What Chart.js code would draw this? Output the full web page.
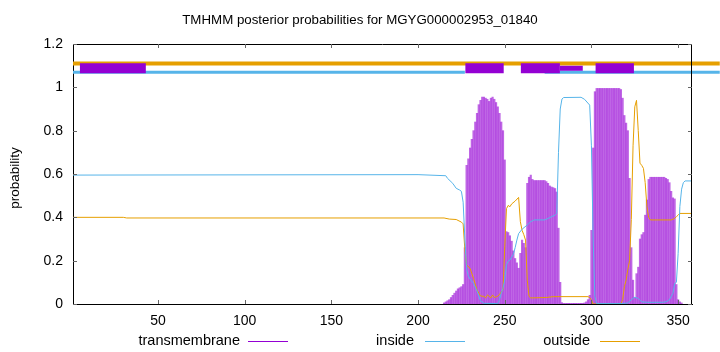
<!DOCTYPE html>
<html><head><meta charset="utf-8">
<script src="https://cdn.jsdelivr.net/npm/chart.js@4.4.1/dist/chart.umd.min.js"></script>
<style>html,body{margin:0;padding:0;background:#fff;}#wrap{width:720px;height:352px;position:relative;}</style>
</head><body><div id="wrap"><canvas id="c" width="720" height="352"></canvas></div>
<script>
// ---------- data ----------
const titleText = 'TMHMM posterior probabilities for MGYG000002953_01840';
const yAxisLabel = 'probability';
const seriesNames = ['transmembrane', 'inside', 'outside'];
const xTickValues = [50, 100, 150, 200, 250, 300, 350];
const yTickValues = [0, 0.2, 0.4, 0.6, 0.8, 1, 1.2];
const seqStart = 1, seqEnd = 358;

// transmembrane posterior, residues 215..352 (zero elsewhere)
const tmStart = 215;
const tmValues = [
  0.005,0.01,0.015,0.02,0.03,0.04,0.05,0.06,0.07,0.075,0.08,0.09,
  0.26,0.64,0.67,0.72,0.76,0.80,0.84,0.88,0.92,0.94,0.955,0.955,0.95,0.945,0.935,0.95,0.955,0.945,0.93,0.91,0.88,0.84,0.80,0.665,
  0.334,0.33,0.315,0.29,0.245,0.21,0.19,0.165,0.234,0.295,0.28,0.26,
  0.557,0.585,0.595,0.575,0.57,0.57,0.57,0.57,0.57,0.57,0.57,0.565,0.557,0.545,0.54,0.537,0.533,0.517,0.35,0.10,0.006,
  0.003,0.003,0.003,0.003,0.003,0.003,0.003,0.003,0.003,0.003,0.003,0.003,
  0.005,0.01,0.02,0.04,0.34,0.72,0.98,
  0.995,0.995,0.995,0.995,0.995,0.995,0.995,0.995,0.995,0.995,0.995,0.995,0.995,0.995,
  0.99,0.95,0.87,0.835,0.80,0.58,0.26,0.11,0.03,0.14,0.17,0.30,0.32,0.33,0.41,0.48,0.575,
  0.585,0.585,0.585,0.585,0.585,0.585,0.585,0.585,0.585,
  0.58,0.575,0.56,0.52,0.49,0.485,0.09,0.02,0.01,0.005
];

// inside posterior [residue, value]
const insideValues = [
  [1,0.595],[200,0.597],[216,0.592],[217,0.58],[220,0.557],[222,0.534],[224,0.526],[225,0.52],[226,0.47],
  [227,0.30],[228,0.16],[229,0.13],[230,0.115],[232,0.095],[234,0.06],[236,0.015],[238,0.003],[246,0.002],
  [247,0.02],[248,0.049],[249,0.072],[250,0.11],[251,0.18],[252,0.198],[253,0.203],[255,0.23],[256,0.26],
  [257,0.295],[258,0.325],[260,0.345],[263,0.365],[265,0.38],[267,0.388],[273,0.388],[275,0.395],[277,0.403],
  [279,0.41],[280,0.418],[281,0.70],[282,0.90],[283,0.946],[284,0.953],[294,0.954],[296,0.945],[299,0.918],
  [300,0.73],[301,0.30],[302,0.034],[303,0.002],[318,0.002],[321,0.005],[324,0.026],[325,0.031],[327,0.026],
  [329,0.01],[332,0.008],[341,0.008],[343,0.01],[345,0.02],[347,0.049],[348,0.095],[349,0.10],[350,0.234],
  [351,0.45],[352,0.53],[353,0.56],[354,0.568],[358,0.568]
];

// outside posterior [residue, value]
const outsideValues = [
  [1,0.40],[30,0.40],[32,0.397],[215,0.397],[218,0.392],[222,0.39],[225,0.378],[226,0.37],[227,0.25],
  [228,0.18],[230,0.165],[232,0.118],[234,0.065],[236,0.037],[238,0.035],[239,0.028],[240,0.042],[242,0.028],
  [243,0.042],[244,0.03],[246,0.036],[247,0.045],[249,0.065],[250,0.264],[251,0.44],[252,0.455],[253,0.449],
  [254,0.462],[256,0.475],[258,0.492],[259,0.38],[260,0.34],[261,0.32],[262,0.295],[263,0.11],[264,0.035],
  [265,0.028],[274,0.03],[278,0.034],[298,0.034],[299,0.03],[300,0.02],[301,0.0],[317,0.0],[318,0.02],
  [319,0.08],[320,0.11],[321,0.16],[322,0.20],[323,0.39],[324,0.73],[325,0.91],[326,0.94],[327,0.80],
  [328,0.65],[329,0.64],[330,0.626],[331,0.56],[332,0.45],[333,0.40],[334,0.388],[346,0.388],[348,0.395],
  [349,0.403],[350,0.41],[351,0.418],[358,0.418]
];

// predicted topology bars along the top
const tmSegments = [[5,43],[227.3,249.4],[259.3,281.8],[302.4,324.5]];
const tmSegmentsMinor = [[281.8,295]];
const outsideSegments = [[1,374]];
const insideSegments = [[1,227],[273,374]];
const topLevels = { outside: 1.11, inside: 1.07, tm: 1.088 };

// ---------- styles ----------
const C_TM = 'rgb(148,0,211)', C_IN = 'rgb(86,180,233)', C_OUT = 'rgb(230,159,0)';
const FONT = '"Liberation Sans", Arial, sans-serif';

function segData(segs, y) {
  const out = [];
  segs.forEach(([a, b], i) => {
    if (i > 0) out.push({ x: (segs[i-1][1] + a) / 2, y: null });
    out.push({ x: a, y: y }, { x: b, y: y });
  });
  return out;
}

const decor = {
  id: 'decor',
  afterDatasetsDraw(chart) {
    const ctx = chart.ctx, a = chart.chartArea, xs = chart.scales.x, ys = chart.scales.y;
    ctx.save();
    ctx.strokeStyle = '#000'; ctx.lineWidth = 1;
    ctx.beginPath();
    ctx.moveTo(a.left, a.top + 0.5); ctx.lineTo(a.right, a.top + 0.5);
    ctx.moveTo(a.right - 0.5, a.top); ctx.lineTo(a.right - 0.5, a.bottom);
    ctx.stroke();
    ctx.strokeStyle = '#666';
    ctx.beginPath();
    xTickValues.forEach(v => {
      const px = Math.round(xs.getPixelForValue(v)) + 0.5;
      ctx.moveTo(px, a.bottom); ctx.lineTo(px, a.bottom - 4);
      ctx.moveTo(px, a.top); ctx.lineTo(px, a.top + 4);
    });
    yTickValues.forEach(v => {
      const py = Math.round(ys.getPixelForValue(v)) + 0.5;
      ctx.moveTo(a.left, py); ctx.lineTo(a.left + 4, py);
      ctx.moveTo(a.right, py); ctx.lineTo(a.right - 4, py);
    });
    ctx.stroke();
    ctx.restore();
  },
  afterDraw(chart) {
    const ctx = chart.ctx, a = chart.chartArea;
    ctx.save();
    ctx.fillStyle = '#000';
    ctx.font = '13.3px ' + FONT;
    ctx.textAlign = 'center'; ctx.textBaseline = 'middle';
    ctx.fillText(titleText, chart.width / 2, 20);
    ctx.save();
    ctx.font = '13.5px ' + FONT;
    ctx.translate(15, 178);
    ctx.rotate(-Math.PI / 2);
    ctx.fillText(yAxisLabel, 0, 0);
    ctx.restore();
    const items = [
      { t: seriesNames[0], c: C_TM, tx: 240, lx: 248 },
      { t: seriesNames[1], c: C_IN, tx: 414, lx: 425 },
      { t: seriesNames[2], c: C_OUT, tx: 590, lx: 600 }
    ];
    ctx.font = '14.5px ' + FONT;
    ctx.textAlign = 'right';
    items.forEach(it => {
      ctx.fillStyle = '#000';
      ctx.fillText(it.t, it.tx, 341);
      ctx.strokeStyle = it.c; ctx.lineWidth = 1;
      ctx.beginPath(); ctx.moveTo(it.lx, 341.5); ctx.lineTo(it.lx + 40, 341.5); ctx.stroke();
    });
    ctx.restore();
  }
};

new Chart(document.getElementById('c'), {
  type: 'bar',
  data: {
    datasets: [
      { type: 'line', label: 'tmbox', data: segData(tmSegments, topLevels.tm), borderColor: C_TM, borderWidth: 10,
        borderCapStyle: 'butt', pointRadius: 0, spanGaps: false, clip: false, order: 0 },
      { type: 'line', label: 'tmbox2', data: segData(tmSegmentsMinor, topLevels.tm), borderColor: C_TM, borderWidth: 5,
        borderCapStyle: 'butt', pointRadius: 0, spanGaps: false, clip: false, order: 0 },
      { type: 'line', label: 'outbar', data: segData(outsideSegments, topLevels.outside), borderColor: C_OUT, borderWidth: 4,
        borderCapStyle: 'butt', pointRadius: 0, spanGaps: false, clip: false, order: 1 },
      { type: 'line', label: 'inbar', data: segData(insideSegments, topLevels.inside), borderColor: C_IN, borderWidth: 3,
        borderCapStyle: 'butt', pointRadius: 0, spanGaps: false, clip: false, order: 1 },
      { type: 'line', label: seriesNames[1], data: insideValues.map(p => ({ x: p[0], y: p[1] })), borderColor: C_IN,
        borderWidth: 1, pointRadius: 0, tension: 0, order: 2 },
      { type: 'line', label: seriesNames[2], data: outsideValues.map(p => ({ x: p[0], y: p[1] })), borderColor: C_OUT,
        borderWidth: 1, pointRadius: 0, tension: 0, order: 2 },
      { type: 'bar', label: seriesNames[0], data: tmValues.map((v, i) => ({ x: tmStart + i, y: v })),
        backgroundColor: 'rgba(148,0,211,0.6)', barThickness: 1.5, grouped: false, order: 3 }
    ]
  },
  options: {
    responsive: false, animation: false, devicePixelRatio: 1,
    layout: { padding: { left: 0, right: 28, top: 44, bottom: 0 } },
    plugins: { legend: { display: false }, tooltip: { enabled: false }, title: { display: false } },
    scales: {
      x: {
        type: 'linear', min: seqStart, max: seqEnd, offset: false,
        afterFit: s => { s.height = 48; },
        afterBuildTicks: s => { s.ticks = xTickValues.map(v => ({ value: v })); },
        grid: { display: false, drawTicks: false },
        border: { display: true, color: '#000', width: 1 },
        ticks: { color: '#000', font: { family: FONT, size: 14 }, padding: 9, maxRotation: 0, autoSkip: false }
      },
      y: {
        type: 'linear', min: 0, max: 1.2,
        afterFit: s => { s.width = 73; },
        afterBuildTicks: s => { s.ticks = yTickValues.map(v => ({ value: v })); },
        grid: { display: false, drawTicks: false },
        border: { display: true, color: '#000', width: 1 },
        ticks: { color: '#000', font: { family: FONT, size: 14 }, padding: 10,
          callback: v => String(Number(v.toFixed(1))) }
      }
    }
  },
  plugins: [decor]
});
</script></body></html>
